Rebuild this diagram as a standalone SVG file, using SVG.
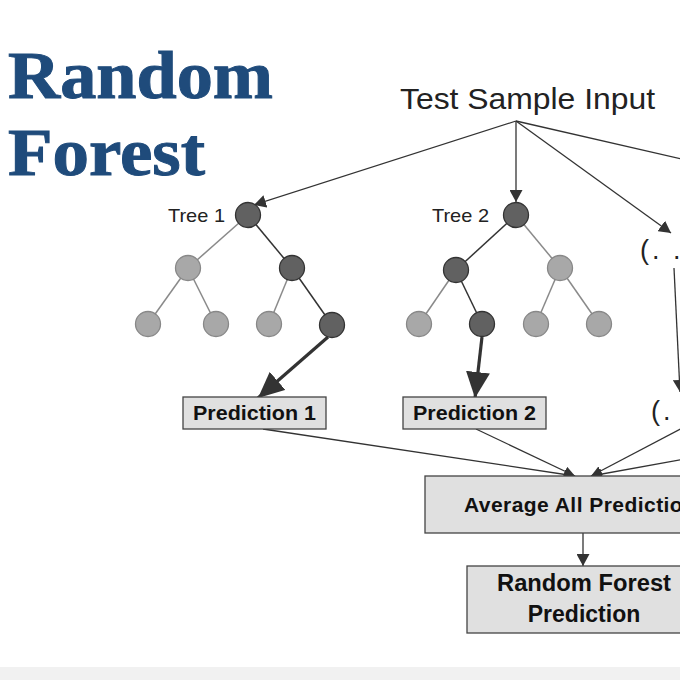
<svg xmlns="http://www.w3.org/2000/svg" width="680" height="681" viewBox="0 0 680 681">
<defs>
<style>
.title{font-family:"Liberation Serif","DejaVu Serif",serif;font-weight:bold;fill:#1f4b7b;stroke:#1f4b7b;stroke-width:1;font-size:68px}
.lbl{font-family:"Liberation Sans","Noto Sans",sans-serif;fill:#222}
.bold{font-family:"Liberation Sans","Noto Sans",sans-serif;font-weight:bold;fill:#111}
.box{fill:#e0e0e0;stroke:#444;stroke-width:1.3}
.dark{fill:#616161;stroke:#333;stroke-width:1.3}
.light{fill:#a8a8a8;stroke:#888;stroke-width:1.3}
.ed{stroke:#333;stroke-width:1.5;fill:none}
.el{stroke:#8a8a8a;stroke-width:1.5;fill:none}
.con{stroke:#333;stroke-width:1.3;fill:none}
.thick{stroke:#333;stroke-width:3.2;fill:none}
</style>
<marker id="ah" markerUnits="userSpaceOnUse" markerWidth="12" markerHeight="13" viewBox="0 0 12 13" refX="12" refY="6.5" orient="auto">
<path d="M0,0 L12,6.5 L0,13 z" fill="#333"/>
</marker>
<marker id="as" markerUnits="userSpaceOnUse" markerWidth="11" markerHeight="10" viewBox="0 0 11 10" refX="11" refY="5" orient="auto">
<path d="M0,0 L11,5 L0,10 z" fill="#333"/>
</marker>
<marker id="ab" markerUnits="userSpaceOnUse" markerWidth="26" markerHeight="24" viewBox="0 0 26 24" refX="26" refY="12" orient="auto">
<path d="M0,0 L26,12 L0,24 z" fill="#333"/>
</marker>
</defs>
<rect x="0" y="0" width="680" height="681" fill="#fff"/>
<rect x="0" y="667" width="680" height="13" fill="#f1f1f1"/>

<g id="title">
<text class="title" x="8" y="98" textLength="265" lengthAdjust="spacingAndGlyphs">Random</text>
<text class="title" x="8" y="175" textLength="197" lengthAdjust="spacingAndGlyphs">Forest</text>
</g>

<g id="input">
<text class="lbl" x="400" y="109" font-size="29" textLength="255" lengthAdjust="spacingAndGlyphs">Test Sample Input</text>
</g>

<g id="connectors">
<line class="con" x1="516" y1="121" x2="254" y2="205" marker-end="url(#ah)"/>
<line class="con" x1="516" y1="121" x2="516" y2="202" marker-end="url(#ah)"/>
<line class="con" x1="516" y1="121" x2="671" y2="233" marker-end="url(#ah)"/>
<line class="con" x1="516" y1="121" x2="690" y2="161"/>
<line class="con" x1="674" y1="268" x2="680" y2="392" marker-end="url(#ah)"/>
<line class="thick" x1="328" y1="337" x2="258" y2="398" marker-end="url(#ab)"/>
<line class="thick" x1="482" y1="337" x2="475" y2="398" marker-end="url(#ab)"/>
<line class="con" x1="263" y1="429" x2="575" y2="476" marker-end="url(#as)"/>
<line class="con" x1="476" y1="429" x2="575" y2="476" marker-end="url(#as)"/>
<line class="con" x1="690" y1="424" x2="591" y2="476" marker-end="url(#as)"/>
<line class="con" x1="690" y1="458" x2="591" y2="476" marker-end="url(#as)"/>
<line class="con" x1="583" y1="533" x2="583" y2="566" marker-end="url(#ah)"/>
</g>

<g id="tree1">
<text class="lbl" x="168" y="222" font-size="19" textLength="57" lengthAdjust="spacingAndGlyphs">Tree 1</text>
<line class="el" x1="248" y1="215" x2="188" y2="268"/>
<line class="ed" x1="248" y1="215" x2="292" y2="268"/>
<line class="el" x1="188" y1="268" x2="148" y2="324"/>
<line class="el" x1="188" y1="268" x2="216" y2="324"/>
<line class="el" x1="292" y1="268" x2="269" y2="324"/>
<line class="ed" x1="292" y1="268" x2="332" y2="325"/>
<circle class="dark" cx="248" cy="215" r="12.5"/>
<circle class="light" cx="188" cy="268" r="12.5"/>
<circle class="dark" cx="292" cy="268" r="12.5"/>
<circle class="light" cx="148" cy="324" r="12.5"/>
<circle class="light" cx="216" cy="324" r="12.5"/>
<circle class="light" cx="269" cy="324" r="12.5"/>
<circle class="dark" cx="332" cy="325" r="12.5"/>
</g>

<g id="tree2">
<text class="lbl" x="432" y="222" font-size="19" textLength="57" lengthAdjust="spacingAndGlyphs">Tree 2</text>
<line class="ed" x1="516" y1="215" x2="456" y2="270"/>
<line class="el" x1="516" y1="215" x2="560" y2="268"/>
<line class="el" x1="456" y1="270" x2="419" y2="324"/>
<line class="ed" x1="456" y1="270" x2="482" y2="324"/>
<line class="el" x1="560" y1="268" x2="536" y2="324"/>
<line class="el" x1="560" y1="268" x2="599" y2="324"/>
<circle class="dark" cx="516" cy="215" r="12.5"/>
<circle class="dark" cx="456" cy="270" r="12.5"/>
<circle class="light" cx="560" cy="268" r="12.5"/>
<circle class="light" cx="419" cy="324" r="12.5"/>
<circle class="dark" cx="482" cy="324" r="12.5"/>
<circle class="light" cx="536" cy="324" r="12.5"/>
<circle class="light" cx="599" cy="324" r="12.5"/>
</g>

<g id="ellipsis-tree">
<text class="lbl" x="640" y="259" font-size="27" letter-spacing="3">(. . .)</text>
</g>

<g id="prediction1">
<rect class="box" x="183" y="397" width="143" height="32"/>
<text class="bold" x="193" y="420" font-size="20" textLength="123" lengthAdjust="spacingAndGlyphs">Prediction 1</text>
</g>

<g id="prediction2">
<rect class="box" x="403" y="397" width="143" height="32"/>
<text class="bold" x="413" y="420" font-size="20" textLength="123" lengthAdjust="spacingAndGlyphs">Prediction 2</text>
</g>

<g id="ellipsis-prediction">
<text class="lbl" x="651" y="420" font-size="27" letter-spacing="3">(. . .)</text>
</g>

<g id="average">
<rect class="box" x="425" y="476" width="320" height="57"/>
<text class="bold" x="464" y="512" font-size="21" letter-spacing="0.45">Average All Predictions</text>
</g>

<g id="rf-prediction">
<rect class="box" x="467" y="566" width="232" height="67"/>
<text class="bold" x="584" y="591" font-size="23" text-anchor="middle" textLength="174" lengthAdjust="spacingAndGlyphs">Random Forest</text>
<text class="bold" x="584" y="622" font-size="23" text-anchor="middle">Prediction</text>
</g>
</svg>
